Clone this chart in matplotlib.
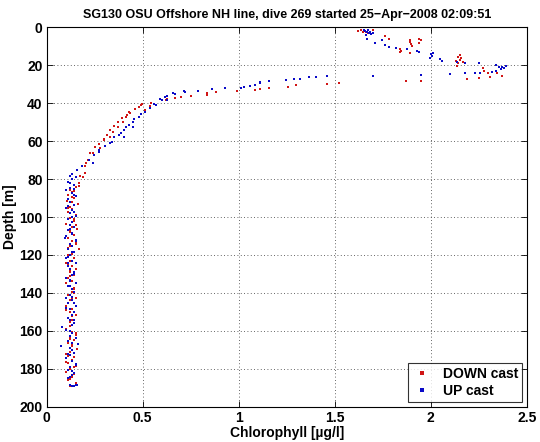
import matplotlib
matplotlib.use("Agg")
import matplotlib.pyplot as plt

plt.rcParams['font.family'] = ['Liberation Sans', 'DejaVu Sans']
plt.rcParams['font.weight'] = 'bold'

title = "SG130 OSU Offshore NH line, dive 269 started 25\u2212Apr\u22122008 02:09:51"
xlabel = "Chlorophyll [\u00b5g/l]"
ylabel = "Depth [m]"
xticks = [0, 0.5, 1, 1.5, 2, 2.5]
xticklabels = ["0", "0.5", "1", "1.5", "2", "2.5"]
yticks = [0, 20, 40, 60, 80, 100, 120, 140, 160, 180, 200]

# DOWN cast (chlorophyll, depth)
down_chl = [1.62, 1.635, 1.645, 1.655, 1.665, 1.675, 1.69, 1.70,
            1.76, 1.785, 1.89, 1.89, 1.895, 1.90, 1.84, 1.845, 1.84, 1.94, 1.95, 1.94, 1.89,
            2.15, 2.14, 2.16, 2.15, 2.13, 2.17, 2.14, 2.135, 2.27, 2.275, 2.30, 2.31, 2.345,
            2.37, 2.25, 2.19, 1.95, 1.87, 1.52, 1.46, 1.30, 1.255, 1.16, 1.11, 1.083, 0.99,
            0.884, 0.835, 0.835, 0.75, 0.70, 0.667, 0.627, 0.62, 0.545, 0.497, 0.49, 0.54,
            0.48, 0.51, 0.46, 0.435, 0.427, 0.42, 0.415, 0.392, 0.395, 0.37, 0.37, 0.35,
            0.345, 0.33, 0.33, 0.314, 0.30, 0.297, 0.27, 0.275, 0.253, 0.24, 0.227, 0.215,
            0.205, 0.2, 0.2, 0.19, 0.175, 0.17, 0.167, 0.14,
            0.15, 0.12, 0.13, 0.11, 0.14, 0.106, 0.163, 0.12, 0.13, 0.11, 0.15, 0.12, 0.14,
            0.10, 0.13, 0.16, 0.12, 0.14, 0.11, 0.13, 0.15, 0.12, 0.17, 0.13, 0.11, 0.14,
            0.12, 0.10, 0.13, 0.15, 0.12, 0.14, 0.11, 0.13, 0.10, 0.12, 0.14, 0.13, 0.11,
            0.15, 0.12, 0.14, 0.10, 0.13, 0.12, 0.15, 0.11, 0.13, 0.14, 0.12, 0.10, 0.13,
            0.15, 0.12, 0.14, 0.11, 0.13, 0.16, 0.12, 0.10, 0.14, 0.13, 0.11, 0.15, 0.12,
            0.10, 0.14, 0.13, 0.11, 0.15, 0.12,
            0.13, 0.11, 0.14, 0.12, 0.15, 0.13, 0.11, 0.12, 0.14, 0.13, 0.10, 0.12, 0.15,
            0.13, 0.11, 0.14, 0.12, 0.13, 0.15, 0.11, 0.12, 0.14, 0.13, 0.12, 0.10, 0.14]
down_depth = [2.0, 1.6, 2.3, 1.8, 2.6, 3.0, 3.4, 1.5,
              4.7, 5.9, 6.8, 7.8, 8.8, 9.8, 11.5, 12.3, 13.0, 6.3, 6.5, 8.4, 13.5,
              14.7, 15.5, 16.3, 17.0, 17.8, 18.5, 19.0, 20.5, 21.5, 23.0, 24.0, 26.0, 24.3,
              25.6, 26.8, 27.3, 28.2, 28.5, 29.2, 29.9, 30.4, 31.3, 32.0, 32.4, 33.0, 33.6,
              34.1, 34.8, 35.5, 36.0, 36.6, 37.1, 37.6, 38.3, 40.0, 40.4, 41.0, 41.5,
              41.8, 43.5, 43.2, 45.3, 44.4, 46.2, 47.0, 47.9, 49.7, 49.7, 52.3, 52.0,
              55.0, 54.0, 57.6, 56.7, 59.5, 59.0, 61.4, 63.7, 63.3, 66.4, 66.3, 69.8,
              71.7, 73.0, 76.8, 78.7, 78.6, 82.0, 83.8, 86.4,
              84.0, 85.5, 87.0, 88.5, 90.0, 91.5, 93.0, 94.5, 96.0, 97.5, 99.0, 100.5, 102.0,
              103.5, 105.0, 106.5, 108.0, 109.5, 111.0, 112.5, 114.0, 115.5, 117.0, 118.5, 120.0, 121.5,
              123.0, 124.5, 126.0, 127.5, 129.0, 130.5, 132.0, 133.5, 135.0, 136.5, 138.0, 139.5, 141.0,
              142.5, 144.0, 145.5, 147.0, 148.5, 150.0, 151.5, 153.0, 154.5, 156.0, 157.5, 159.0, 160.5,
              162.0, 163.5, 165.0, 166.5, 168.0, 169.5, 171.0, 172.5, 174.0, 175.5, 177.0, 178.5, 180.0,
              181.5, 183.0, 184.5, 186.0, 187.5, 189.0,
              89.2, 95.3, 101.2, 107.3, 113.2, 119.3, 125.2, 131.3, 137.2, 143.3, 149.2, 155.3, 161.2,
              167.3, 173.2, 179.3, 185.2, 92.2, 104.3, 116.2, 128.3, 140.2, 152.3, 164.2, 176.3, 182.2]

# UP cast (chlorophyll, depth)
up_chl = [1.65, 1.66, 1.67, 1.675, 1.68, 1.685, 1.69, 1.70, 1.665, 1.67, 1.71, 1.745,
          1.76, 1.78, 1.82, 1.875, 1.93, 1.94, 2.0, 2.005, 1.995, 2.01, 2.05, 2.06, 2.135,
          2.18, 2.25, 2.34, 2.37, 2.38, 2.365, 2.39, 2.355, 2.34, 2.32, 2.255, 2.23, 2.18,
          2.10, 1.95, 1.70, 1.46, 1.40, 1.365, 1.32, 1.29, 1.245, 1.16, 1.11, 1.11, 1.087,
          1.06, 1.026, 1.014, 0.93, 0.86, 0.786, 0.72, 0.715, 0.67, 0.66, 0.627, 0.625,
          0.615, 0.60, 0.59, 0.57, 0.557, 0.54, 0.51, 0.49, 0.48, 0.453, 0.45, 0.448,
          0.427, 0.415, 0.40, 0.40, 0.385, 0.375, 0.35, 0.34, 0.33, 0.305, 0.27, 0.27,
          0.245, 0.24, 0.22, 0.185, 0.158, 0.155, 0.13, 0.12, 0.14,
          0.13, 0.11, 0.14, 0.12, 0.10, 0.13, 0.15, 0.11, 0.12, 0.14, 0.10, 0.13, 0.12,
          0.15, 0.11, 0.095, 0.13, 0.12, 0.14, 0.11, 0.13, 0.10, 0.15, 0.12, 0.13, 0.11,
          0.14, 0.12, 0.10, 0.13, 0.15, 0.11, 0.12, 0.14, 0.13, 0.10, 0.12, 0.15, 0.11,
          0.13, 0.14, 0.12, 0.10, 0.13, 0.11, 0.15, 0.12, 0.14, 0.13, 0.08, 0.11, 0.12,
          0.14, 0.10, 0.163, 0.077, 0.13, 0.12, 0.15, 0.11, 0.13, 0.14, 0.12, 0.10, 0.13,
          0.15, 0.12, 0.11, 0.14, 0.13, 0.11, 0.12, 0.13, 0.14, 0.15, 0.16,
          0.12, 0.14, 0.11, 0.13, 0.12, 0.15, 0.13, 0.11, 0.14, 0.12, 0.13, 0.10, 0.14,
          0.12, 0.13, 0.11, 0.15, 0.12, 0.14, 0.13, 0.11, 0.12, 0.14, 0.13, 0.12, 0.13]
up_depth = [1.2, 1.8, 2.5, 1.5, 3.0, 2.2, 3.5, 2.8, 4.2, 6.3, 8.2, 6.8,
            9.4, 10.5, 11.0, 11.5, 12.6, 13.0, 14.0, 15.0, 16.0, 13.7, 16.8, 17.7, 18.2,
            18.7, 19.0, 19.6, 20.8, 21.5, 22.0, 20.5, 21.0, 23.0, 23.5, 24.0, 24.3, 24.3,
            24.7, 25.2, 25.6, 25.7, 26.2, 26.4, 27.0, 27.1, 27.8, 28.2, 29.0, 29.5, 30.3,
            31.0, 31.3, 31.7, 32.2, 32.7, 33.4, 34.0, 33.6, 35.3, 34.8, 36.0, 38.3,
            36.9, 38.3, 37.8, 41.0, 40.4, 42.7, 44.4, 45.5, 47.0, 48.5, 49.7, 52.7,
            51.4, 52.4, 54.0, 57.9, 55.8, 56.7, 57.6, 60.2, 61.0, 62.5, 64.9, 65.5,
            67.2, 71.7, 69.8, 73.0, 75.0, 78.7, 77.2, 78.6, 85.0,
            80.0, 81.5, 83.0, 84.5, 86.0, 87.5, 89.0, 90.5, 92.0, 93.5, 95.0, 96.5, 98.0,
            99.5, 101.0, 111.0, 102.5, 104.0, 105.5, 107.0, 108.5, 110.0, 112.5, 114.0, 115.5, 117.0,
            118.5, 120.0, 121.5, 123.0, 124.5, 126.0, 127.5, 129.0, 130.5, 132.0, 133.5, 135.0, 136.5,
            138.0, 139.5, 141.0, 142.5, 144.0, 145.5, 147.0, 148.5, 150.0, 151.5, 158.0, 153.0, 154.5,
            156.0, 159.5, 167.0, 168.0, 161.0, 162.5, 164.0, 165.5, 170.0, 171.5, 173.0, 174.5, 176.0,
            177.5, 179.0, 180.5, 182.0, 183.5, 185.0, 188.8, 189.0, 188.9, 188.7, 188.8,
            82.3, 88.2, 94.3, 100.2, 106.3, 112.2, 118.3, 124.2, 130.3, 136.2, 142.3, 148.2, 154.3,
            160.2, 166.3, 172.2, 178.3, 184.2, 97.3, 109.2, 121.3, 133.2, 145.3, 157.2, 169.3, 181.2]

fig = plt.figure(figsize=(5.4, 4.42), dpi=100)
ax = fig.add_axes([0.0865, 0.080, 0.889, 0.858])

ax.plot(down_chl, down_depth, linestyle='none', marker='s', markersize=2.1,
        color='#d01515', markeredgewidth=0, label='DOWN cast')
ax.plot(up_chl, up_depth, linestyle='none', marker='s', markersize=2.1,
        color='#0a0ac8', markeredgewidth=0, label='UP cast')

ax.set_xlim(0, 2.5)
ax.set_ylim(200, 0)
ax.set_xticks(xticks)
ax.set_xticklabels(xticklabels)
ax.set_yticks(yticks)
ax.grid(True, linestyle=(0, (1, 3)), color='#333333', linewidth=0.6)
ax.tick_params(direction='in', top=True, right=True, length=4, width=0.6,
               labelsize=10, pad=3)
for lab in ax.get_xticklabels() + ax.get_yticklabels():
    lab.set_fontweight('bold')
for s in ax.spines.values():
    s.set_linewidth(0.8)

ax.set_title(title, fontsize=9, fontweight='bold', pad=7)
ax.set_xlabel(xlabel, fontsize=10, fontweight='bold', labelpad=1)
ax.set_ylabel(ylabel, fontsize=10, fontweight='bold', labelpad=2)

leg = ax.legend(loc='lower right', fontsize=10, frameon=True, fancybox=False,
                borderaxespad=0.35, handlelength=1.5, markerscale=1.1,
                borderpad=0.25, labelspacing=0.25, handletextpad=0.8)
leg.get_frame().set_edgecolor('black')
leg.get_frame().set_linewidth(0.8)
for t in leg.get_texts():
    t.set_fontweight('bold')

fig.savefig('out.png', dpi=100)
